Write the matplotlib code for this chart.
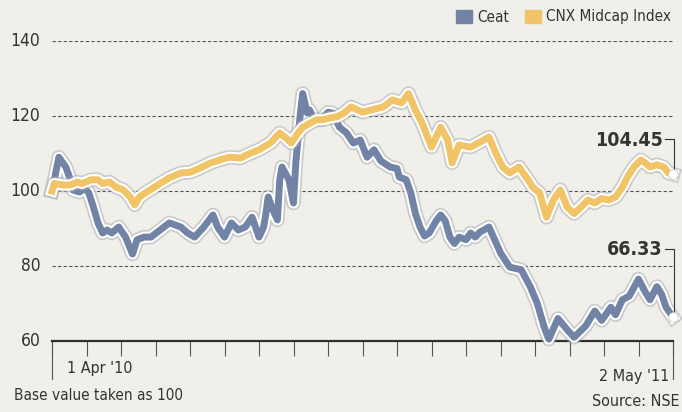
import matplotlib
matplotlib.use("Agg")
import matplotlib.pyplot as plt
import matplotlib.patheffects as pe
import matplotlib.transforms as mtransforms

plt.rcParams["font.family"] = ["DejaVu Sans"]
plt.rcParams["font.stretch"] = "condensed"

# trading-day index since 1 Apr '10 (ticks every 15 sessions), base value = 100
ceat_days = [0, 3, 6, 8, 9, 12, 14, 16, 18, 20, 22, 24, 26, 29, 32, 35, 37, 40, 43, 47,
             51, 56, 59, 62, 66, 70, 72, 75, 78, 81, 84, 87, 90, 92, 93, 94, 96, 98, 99, 100,
             103, 105, 106, 108, 109, 111, 112, 114, 117, 120, 122, 125, 128, 131, 134, 137,
             140, 143, 147, 150, 151, 154, 156, 158, 160, 162, 164, 167, 169, 171, 173, 175,
             177, 180, 182, 184, 186, 190, 195, 199, 204, 208, 211, 214, 216, 220, 224, 227,
             232, 236, 239, 243, 245, 248, 251, 255, 258, 260, 263, 265, 267, 270]
ceat_vals = [100, 109, 106.4, 103, 100.3, 99.7, 100.8, 99.5, 95.7, 91.5, 88.8, 89.6, 88.8,
             90.4, 87.7, 83.2, 87, 87.7, 87.7, 89.6, 91.5, 90.4, 88.8, 87.7, 90.4, 93.6, 90.4,
             87.7, 91.5, 89.6, 90.4, 93, 87.7, 90.4, 94, 98.4, 95, 92.3, 103, 106.4, 103, 96.8,
             107.5, 120.8, 126, 120.8, 121.6, 119, 119, 121, 120.8, 117, 115.5, 112.8, 113.6,
             109, 111, 108, 106.4, 106, 103.7, 103, 99.5, 94, 90.4, 88, 88.8, 92, 93.6, 92,
             87.7, 86, 87.7, 87, 88.8, 87.7, 89, 90.4, 83.5, 79.7, 79, 74.4, 70, 63.7, 60.5,
             66, 63, 61, 64, 68, 65.5, 69, 67, 71, 72, 76.5, 73, 71, 74.5, 72.5, 69, 66.33]

cnx_days = [0, 1, 5, 8, 11, 13, 17, 20, 22, 25, 28, 31, 34, 36, 38, 41, 44, 47, 51, 56, 60,
            64, 69, 73, 77, 82, 86, 90, 95, 99, 102, 104, 107, 109, 112, 115, 118, 121, 124,
            127, 130, 133, 135, 138, 144, 148, 152, 155, 158, 161, 165, 169, 172, 174, 177,
            182, 186, 190, 193, 196, 199, 203, 207, 209, 212, 215, 218, 221, 224, 227, 230,
            233, 236, 239, 242, 245, 248, 250, 253, 256, 258, 260, 263, 266, 268, 270]
cnx_vals = [100, 102, 101.6, 101.6, 102.4, 102, 103, 103, 102, 102.4, 101, 100.3, 98.4,
            96.3, 98.4, 99.7, 100.8, 102, 103.5, 104.8, 105, 106, 107.5, 108.3, 109, 108.8,
            110, 111, 112.8, 115.5, 114, 112.8, 115.5, 117, 118, 119, 119, 119.5, 119.8,
            120.8, 122.4, 121.6, 121, 121.5, 122.4, 124.3, 123.5, 126, 121.6, 118, 111.7, 117,
            113.6, 107.5, 112.3, 111.7, 113, 114.4, 110, 106.4, 104.8, 106.4, 103, 101, 99.5,
            93, 97.6, 100.3, 95.7, 94, 95.7, 97.6, 96.8, 98, 97.6, 98.4, 101, 103.5, 106.4,
            108.3, 107.5, 106.4, 107, 106.4, 104.8, 104.45]

y_ticks = [60, 80, 100, 120, 140]
x_ticks = list(range(0, 271, 15))
series_names = ["Ceat", "CNX Midcap Index"]
BLUE = "#7284a6"
YELLOW = "#f2c468"
INK = "#333333"
PAPER = "#f0efe9"

fig = plt.figure(figsize=(6.82, 4.12), dpi=100, facecolor=PAPER)
ax = fig.add_axes([52 / 682, 71 / 412, 621 / 682, 300 / 412])
ax.set_facecolor(PAPER)
ax.set_xlim(0, 270)
ax.set_ylim(60, 140)

for v in y_ticks[1:]:
    ax.axhline(v, color="#555555", lw=0.8, ls=(0, (3, 2)), zorder=1)

halo = [pe.Stroke(linewidth=10.5, foreground="#a9a9b0", alpha=0.5),
        pe.Stroke(linewidth=8, foreground="white"), pe.Normal()]
ax.plot(ceat_days, ceat_vals, color=BLUE, lw=5, solid_joinstyle="round",
        path_effects=halo, clip_on=False, zorder=3)
ax.plot(cnx_days, cnx_vals, color=YELLOW, lw=5, solid_joinstyle="round",
        path_effects=halo, clip_on=False, zorder=4)

# end markers
for days, vals in [(ceat_days, ceat_vals), (cnx_days, cnx_vals)]:
    ax.plot(days[-1], vals[-1], "o", ms=7, mfc="white", mec="#cccccc", mew=0.6,
            clip_on=False, zorder=6)

# end value labels with bracket leader
for vals, lab_y in [(cnx_vals, 113.8), (ceat_vals, 84.6)]:
    ax.plot([266.5, 270.5, 270.5], [lab_y, lab_y, vals[-1] + 1.2], color=INK, lw=0.8,
            clip_on=False, zorder=5)
    ax.text(265.5, lab_y - 0.2, f"{vals[-1]:.2f}", ha="right", va="center", fontsize=14,
            fontweight="bold", color=INK)

for s in ["left", "right", "top"]:
    ax.spines[s].set_visible(False)
ax.spines["bottom"].set_color("#2e2e2e")
ax.spines["bottom"].set_linewidth(1.6)
ax.set_xticks(x_ticks)
ax.set_xticklabels([])
ax.tick_params(axis="x", length=11, width=0.8, color="#555555", direction="out")
ax.set_yticks([])

for v in y_ticks:
    ax.text(-5, v, str(v), transform=ax.transData, ha="right", va="center",
            fontsize=12.5, color=INK, clip_on=False)

trans = mtransforms.blended_transform_factory(ax.transData, ax.transAxes)
for d in (x_ticks[0], x_ticks[-1]):
    ax.plot([d, d], [0, -0.125], transform=trans, color="#555555", lw=0.8, clip_on=False)
ax.text(6.5, -0.065, "1 Apr '10", transform=trans, ha="left", va="top", fontsize=11.5,
        color=INK)
ax.text(268.5, -0.095, "2 May '11", transform=trans, ha="right", va="top", fontsize=11.5,
        color=INK)

fig.text(14 / 682, 1 - 395 / 412, "Base value taken as 100", ha="left", va="center",
         fontsize=11, color=INK)
fig.text(680 / 682, 1 - 402 / 412, "Source: NSE", ha="right", va="center",
         fontsize=11.5, color=INK)

# legend
for x0, col, name in [(456, BLUE, series_names[0]), (525, YELLOW, series_names[1])]:
    fig.patches.append(plt.Rectangle((x0 / 682, 1 - 23 / 412), 16 / 682, 13 / 412,
                                     transform=fig.transFigure, color=col, figure=fig))
    fig.text((x0 + 21) / 682, 1 - 17 / 412, name, ha="left", va="center",
             fontsize=11, color=INK)

fig.savefig("out.png", dpi=100, facecolor=PAPER)
